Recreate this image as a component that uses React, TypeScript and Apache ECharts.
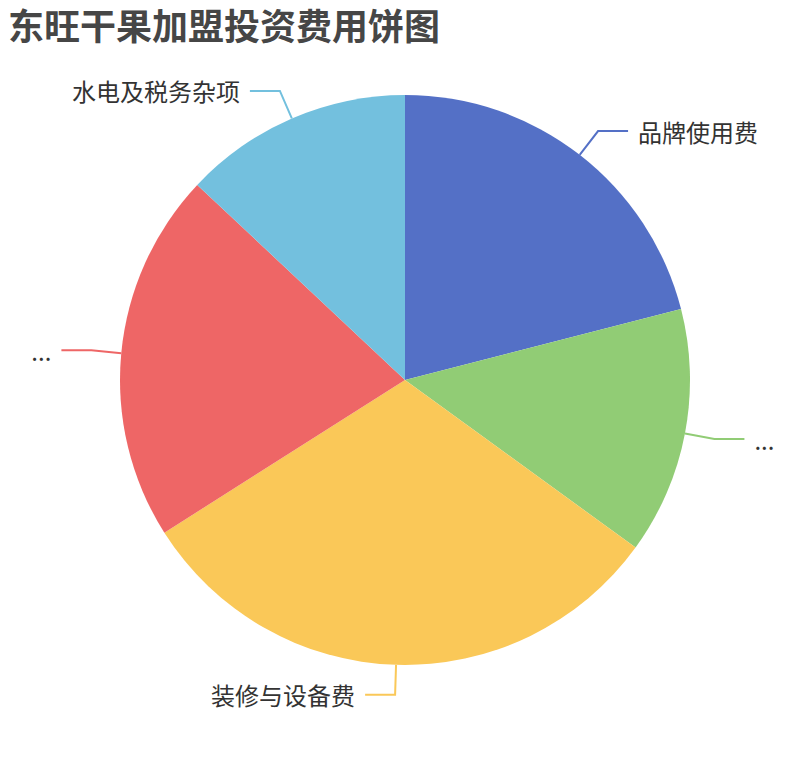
import React, { useEffect, useRef } from "react";
import * as echarts from "echarts";

const titleText = "东旺干果加盟投资费用饼图";
const categories = ["品牌使用费", "首批进货费", "装修与设备费", "店铺租金及人工", "水电及税务杂项"];
const values = [21, 14, 31, 21, 13];
const truncated = [false, true, false, true, false];
const colors = ["#5470c6", "#91cc75", "#fac858", "#ee6666", "#73c0de"];

export default function App() {
  const ref = useRef<HTMLDivElement>(null);
  useEffect(() => {
    if (!ref.current) return;
    const chart = echarts.init(ref.current, null, { renderer: "svg" });
    const font = "'Noto Sans CJK SC', 'Noto Sans', sans-serif";
    chart.setOption({
      animation: false,
      color: colors,
      title: {
        text: titleText,
        left: 8,
        top: 6,
        padding: 0,
        textStyle: { fontSize: 36, fontWeight: "bold", color: "#464646", fontFamily: font },
      },
      series: [
        {
          type: "pie",
          radius: "75%",
          center: ["50%", "50%"],
          startAngle: 90,
          clockwise: true,
          label: { fontSize: 24, color: "#333", fontFamily: font, distanceToLabelLine: 10 },
          labelLine: { length: 30, length2: 30, lineStyle: { width: 2 } },
          data: categories.map((name, i) => ({
            name,
            value: values[i],
            label: truncated[i] ? { width: 30, overflow: "truncate" } : undefined,
          })),
        },
      ],
    });
    return () => chart.dispose();
  }, []);
  return (
    <div
      ref={ref}
      style={{ position: "absolute", left: 0, top: 0, width: 810, height: 760 }}
    />
  );
}
